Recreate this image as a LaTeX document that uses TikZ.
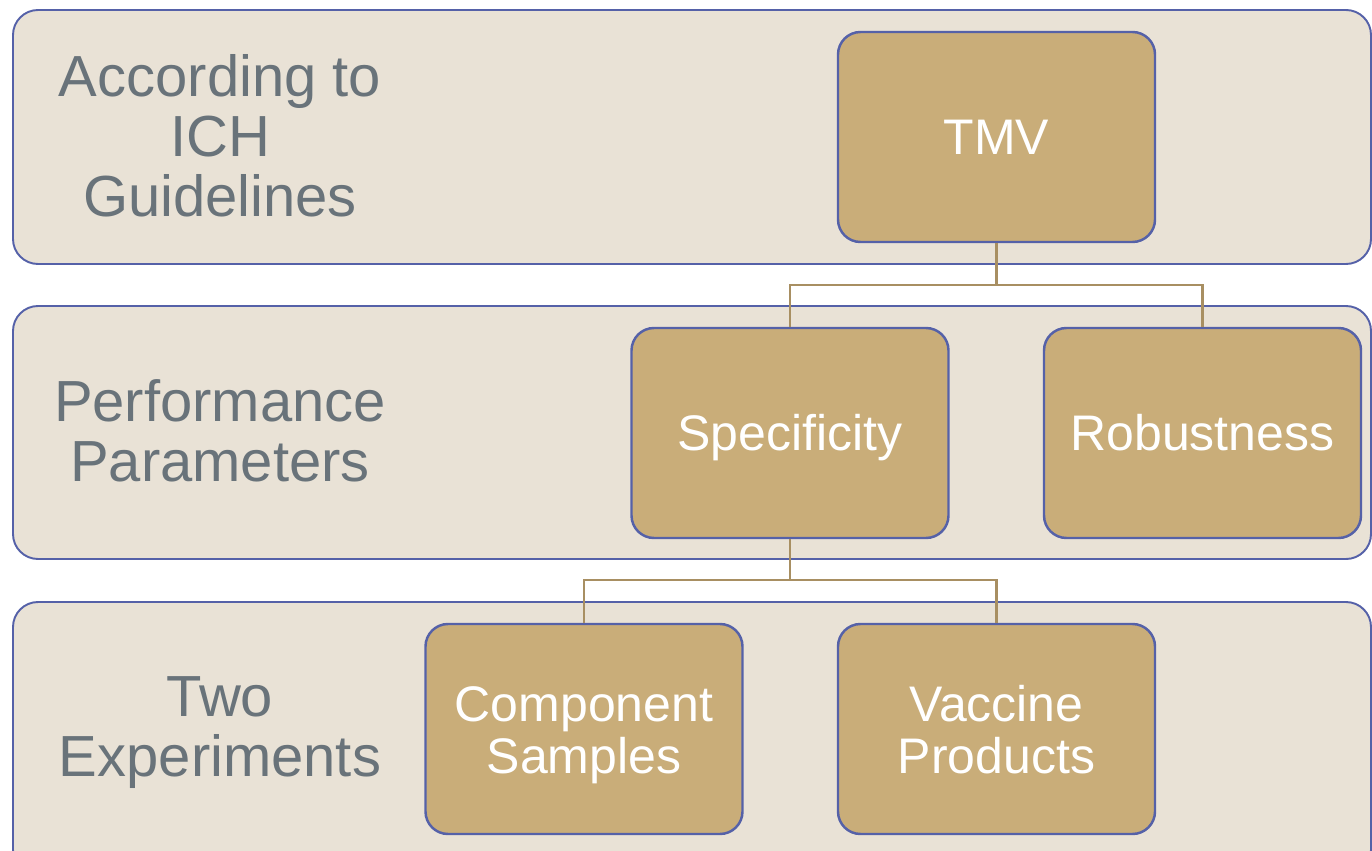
\documentclass[tikz,border=0pt]{standalone}
\usepackage{fontspec}
\setmainfont{Liberation Sans}
\definecolor{bandfill}{HTML}{E9E2D6}
\definecolor{bandline}{HTML}{5561A8}
\definecolor{boxfill}{HTML}{C9AD79}
\definecolor{linkcol}{HTML}{A88F62}
\definecolor{labelcol}{HTML}{69737A}
\newcommand{\twolines}[2]{\begin{tabular}[t]{@{}c@{}}#1\\#2\end{tabular}}
\begin{document}
\begin{tikzpicture}[x=0.02cm,y=-0.02cm,
  band/.style={draw=bandline,fill=bandfill,line width=1.1pt,rounded corners=0.5cm},
  item/.style={draw=bandline,fill=boxfill,line width=1.4pt,rounded corners=0.45cm,
    minimum width=317*0.02cm,minimum height=210*0.02cm,inner sep=0pt,
    text=white,font=\fontsize{28.45}{28.45}\selectfont,
    text height=20.4pt,text depth=0pt},
  item2/.style={item,text depth=28.45pt},
  lab/.style={text=labelcol,align=center,font=\fontsize{33}{34.1}\selectfont},
  link/.style={draw=linkcol,line width=1.3pt}]
\useasboundingbox (0,0) rectangle (1372,851);
\begin{scope}
\clip (0,0) rectangle (1372,851);
\draw[band] (13,10) rectangle (1371,264);
\draw[band] (13,306) rectangle (1371,559);
\draw[band] (13,602) rectangle (1371,875);
\end{scope}
\node[lab] (l1) at (220,136) {According to\\ICH\\Guidelines};
\node[lab] (l2) at (220,431) {Performance\\Parameters};
\node[lab] (l3) at (220,733) {Two\\Experiments};
\node[item] (tmv) at (996.5,137) {TMV};
\node[item] (spec) at (790,433) {Specificity};
\node[item] (rob) at (1202.5,433) {Robustness};
\node[item2] (comp) at (584,729) {\twolines{Component}{Samples}};
\node[item2] (vac) at (996.5,729) {\twolines{Vaccine}{Products}};
\coordinate (j1) at (996.5,285);
\coordinate (j2) at (790,580);
\draw[link] (tmv.south) -- (j1);
\draw[link] (spec.north) |- (j1) -| (rob.north);
\draw[link] (spec.south) -- (j2);
\draw[link] (comp.north) |- (j2) -| (vac.north);
\end{tikzpicture}
\end{document}
